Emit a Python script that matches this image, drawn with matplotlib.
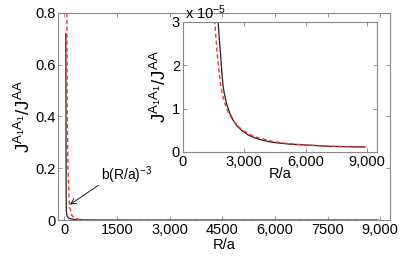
import numpy as np
import matplotlib.pyplot as plt

plt.rcParams['font.family'] = ['Liberation Sans', 'DejaVu Sans']
plt.rcParams['mathtext.default'] = 'regular'

# values
R_black = [40, 45, 50, 55, 60, 80, 120, 200, 300, 500, 1000, 1400,
           1727, 1780, 1844, 1905, 1972, 2050, 2138, 2290, 2461, 2650, 2872, 3200, 3606,
           4000, 4418, 5235, 6050, 7190, 8900]
J_black = [0.72, 0.45, 0.1, 0.04, 0.027, 0.015, 0.008, 0.004, 0.002, 0.0008, 1.0e-4, 5.0e-5,
           3.0e-5, 2.62e-5, 2.27e-5, 1.86e-5, 1.5e-5, 1.3e-5, 1.12e-5, 0.9e-5, 0.73e-5, 0.6e-5,
           0.5e-5, 0.39e-5, 0.31e-5, 0.26e-5, 0.22e-5, 0.18e-5, 0.16e-5, 0.13e-5, 0.115e-5]

R_red = [60, 70, 80, 100, 140, 200, 300, 500, 1000, 1300,
         1566, 1620, 1680, 1770, 1860, 1950, 2055, 2230, 2430, 2620, 2850, 3200, 3600,
         4400, 5200, 6000, 7200, 9000]
J_red = [1.2, 0.8, 0.45, 0.2, 0.058, 0.02, 0.006, 0.0013, 1.6e-4, 5.0e-5,
         3.0e-5, 2.62e-5, 2.27e-5, 1.86e-5, 1.5e-5, 1.3e-5, 1.12e-5, 0.9e-5, 0.74e-5, 0.63e-5,
         0.53e-5, 0.42e-5, 0.34e-5, 0.24e-5, 0.19e-5, 0.16e-5, 0.13e-5, 0.11e-5]

main_ticks = [0, 1500, 3000, 4500, 6000, 7500, 9000]
main_labels = ['0', '1500', '3,000', '4500', '6,000', '7500', '9,000']
inset_ticks = [0, 3000, 6000, 9000]
inset_labels = ['0', '3,000', '6,000', '9,000']

ylab = r'J$^{A_1A_1}$/J$^{AA}$'
frame = '#888888'
fs = 10.5

fig = plt.figure(figsize=(4.09, 2.58), dpi=100)
ax = fig.add_axes([0.142, 0.147, 0.812, 0.803])
ax.plot(R_black, J_black, color='#222222', lw=0.9)
ax.plot(R_red, J_red, color='#ff3030', lw=1.0, ls='--', dashes=(3, 2))
ax.set_xlim(-180, 9285)
ax.set_ylim(0, 0.8)
ax.set_xticks(main_ticks)
ax.set_xticklabels(main_labels)
ax.set_yticks([0, 0.2, 0.4, 0.6, 0.8])
ax.set_yticklabels(['0', '0.2', '0.4', '0.6', '0.8'])
ax.set_xlabel('R/a', fontsize=fs, labelpad=1)
ax.set_ylabel(ylab, fontsize=13.5, labelpad=1)
ax.annotate(r'b(R/a)$^{-3}$', xy=(160, 0.06), xytext=(1050, 0.175),
            fontsize=fs - 0.5, ha='left', va='center',
            arrowprops=dict(arrowstyle='->', color='black', lw=0.6, shrinkA=0, shrinkB=0,
                            relpos=(0.0, 0.1)))

axin = fig.add_axes([0.447, 0.411, 0.475, 0.504])
axin.plot(R_black, np.array(J_black) / 1e-5, color='#222222', lw=0.9)
axin.plot(R_red, np.array(J_red) / 1e-5, color='#ff3030', lw=1.0, ls='--', dashes=(3, 2))
axin.set_xlim(0, 9500)
axin.set_ylim(0, 3)
axin.set_xticks(inset_ticks)
axin.set_xticklabels(inset_labels)
axin.set_yticks([0, 1, 2, 3])
axin.set_xlabel('R/a', fontsize=fs, labelpad=-1)
axin.set_ylabel(ylab, fontsize=13.5, labelpad=1)
axin.text(0.01, 1.0, r'x 10$^{-5}$', transform=axin.transAxes, fontsize=fs,
          ha='left', va='bottom')

for a in [ax, axin]:
    for s in a.spines.values():
        s.set_color(frame)
        s.set_linewidth(0.8)
    a.tick_params(direction='in', top=True, right=True, length=3, width=0.6,
                  color=frame, labelsize=fs, pad=2)

fig.savefig('out.png', dpi=100)
